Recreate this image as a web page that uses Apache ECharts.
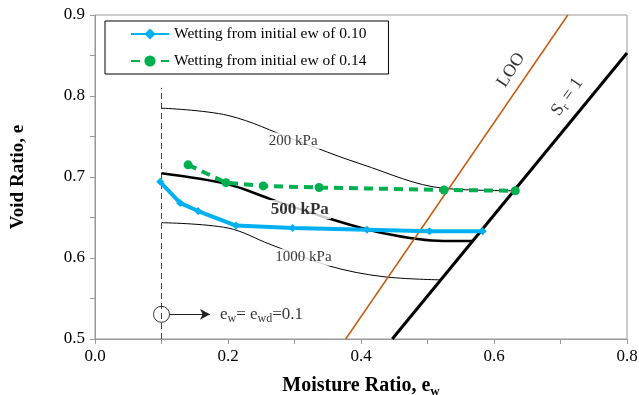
<!DOCTYPE html>
<html><head><meta charset="utf-8">
<script src="https://cdn.jsdelivr.net/npm/echarts@6/dist/echarts.min.js"></script>
<style>html,body{margin:0;padding:0;background:#fff}#c{width:639px;height:395px}</style>
</head><body><div id="c"></div>
<script>
// Data
var blueEw = [0.098, 0.128, 0.155, 0.212, 0.297, 0.409, 0.503, 0.583];
var blueE  = [0.694, 0.668, 0.658, 0.640, 0.637, 0.635, 0.633, 0.633];
var greenEw = [0.140, 0.197, 0.253, 0.337, 0.525, 0.632];
var greenE  = [0.715, 0.693, 0.689, 0.687, 0.684, 0.683];
var c200Ew = [0.1, 0.2, 0.3, 0.4, 0.525, 0.633];
var c200E  = [0.785, 0.776, 0.746, 0.716, 0.686, 0.683];
var c500Ew = [0.1, 0.2, 0.263, 0.343, 0.434, 0.524, 0.568];
var c500E  = [0.7045, 0.691, 0.673, 0.651, 0.6305, 0.621, 0.621];
var c1000Ew = [0.1, 0.2, 0.263, 0.353, 0.433, 0.52];
var c1000E  = [0.6436, 0.637, 0.617, 0.590, 0.577, 0.573];
var looEw = [0.377, 0.711], looE = [0.5, 0.9];
var srEw = [0.447, 0.8], srE = [0.5, 0.853];
var ewdEw = [0.1, 0.1], ewdE = [0.5, 0.81];
var arrowEw = [0.112, 0.173], arrowE = [0.5305, 0.5305];
var circlePt = [0.1, 0.5305];
var xTicks = [0.0, 0.2, 0.4, 0.6, 0.8];
var yTicks = [0.5, 0.6, 0.7, 0.8, 0.9];

function zip(a, b) { return a.map(function (v, i) { return [v, b[i]]; }); }
var F = 'Liberation Serif';

var chart = echarts.init(document.getElementById('c'));
function txt(name, pt, fmt, rich, extra) {
  var lab = Object.assign({show: true, position: 'inside', formatter: fmt, fontFamily: F, color: '#000', rich: rich}, extra || {});
  return {type: 'scatter', name: name, data: [pt], symbolSize: 0, silent: true, z: 5, label: lab};
}
function subStyle(size, sub, drop) {
  return {
    a: {fontFamily: F, fontSize: size, color: '#000'},
    s: {fontFamily: F, fontSize: sub, color: '#000', padding: [drop, 0, 0, 0]}
  };
}
chart.setOption({
  animation: false,
  grid: {left: 95, right: 12, top: 15, bottom: 56, outerBoundsMode: 'none', containLabel: false,
    show: true, borderColor: '#999', borderWidth: 1},
  legend: {
    data: ['Wetting from initial ew of 0.10', 'Wetting from initial ew of 0.14'],
    orient: 'vertical', left: 105, top: 21,
    borderColor: '#000', borderWidth: 1, padding: [5, 22, 5, 25],
    itemWidth: 38, itemHeight: 14, itemGap: 11,
    textStyle: {fontFamily: F, fontSize: 15.5, color: '#000'}, backgroundColor: '#fff'
  },
  xAxis: {
    type: 'value', min: 0, max: 0.8, interval: 0.1,
    name: '{b|Moisture Ratio, e}{bs|w}', nameLocation: 'middle', nameGap: 35,
    nameTextStyle: {rich: {
      b: {fontFamily: F, fontSize: 20, fontWeight: 'bold', color: '#000'},
      bs: {fontFamily: F, fontSize: 13, fontWeight: 'bold', color: '#000', padding: [11, 0, 0, 0]}
    }},
    axisLine: {lineStyle: {color: '#999'}},
    axisTick: {length: 5, lineStyle: {color: '#999'}},
    axisLabel: {fontFamily: F, fontSize: 17, color: '#000', margin: 9,
      formatter: function (v) { var r = Math.round(v * 10) / 10; return xTicks.some(function (t) { return Math.abs(t - r) < 1e-6; }) ? r.toFixed(1) : ''; }},
    splitLine: {show: false}
  },
  yAxis: {
    type: 'value', min: 0.5, max: 0.9, interval: 0.1,
    name: 'Void Ratio, e', nameLocation: 'middle', nameGap: 67,
    nameTextStyle: {fontFamily: F, fontSize: 19, fontWeight: 'bold', color: '#000'},
    axisLine: {lineStyle: {color: '#999'}},
    axisTick: {length: 5, lineStyle: {color: '#999'}},
    minorTick: {show: true, splitNumber: 2, length: 5, lineStyle: {color: '#999'}},
    axisLabel: {fontFamily: F, fontSize: 17, color: '#000', margin: 10,
      formatter: function (v) { return (Math.round(v * 10) / 10).toFixed(1); }},
    splitLine: {show: false}
  },
  series: [
    {type: 'line', name: 'ewd', data: zip(ewdEw, ewdE), symbol: 'none', lineStyle: {color: '#444', width: 1, type: [6, 4]}, z: 2, silent: true},
    {type: 'line', name: 'c200', data: zip(c200Ew, c200E), symbol: 'none', smooth: 0.35, lineStyle: {color: '#000', width: 1}, z: 2},
    {type: 'line', name: 'c500', data: zip(c500Ew, c500E), symbol: 'none', smooth: 0.35, lineStyle: {color: '#000', width: 2.5}, z: 2},
    {type: 'line', name: 'c1000', data: zip(c1000Ew, c1000E), symbol: 'none', smooth: 0.35, lineStyle: {color: '#000', width: 1}, z: 2},
    {type: 'line', name: 'LOO', data: zip(looEw, looE), symbol: 'none', lineStyle: {color: '#c55a11', width: 1.5}, z: 3},
    {type: 'line', name: 'Sr', data: zip(srEw, srE), symbol: 'none', lineStyle: {color: '#000', width: 3}, z: 3},
    {type: 'line', name: 'arrow', data: [], symbol: 'none',
      markLine: {silent: true, symbol: ['none', 'arrow'], symbolSize: [8, 10], label: {show: false},
        lineStyle: {color: '#222', width: 1, type: 'solid'},
        data: [[{coord: [arrowEw[0], arrowE[0]]}, {coord: [arrowEw[1], arrowE[1]]}]]}, z: 3},
    {type: 'scatter', name: 'circle', data: [circlePt], symbol: 'circle', symbolSize: 16, itemStyle: {color: 'rgba(255,255,255,0)', borderColor: '#000', borderWidth: 1}, z: 3},
    txt('l200', [0.298, 0.7444], '200 kPa', null, {fontSize: 15, backgroundColor: '#fff', padding: [1, 2]}),
    txt('l500', [0.308, 0.660], '500 kPa', null, {fontSize: 17, fontWeight: 'bold', backgroundColor: '#fff', padding: [1, 2]}),
    txt('l1000', [0.3135, 0.601], '1000 kPa', null, {fontSize: 15, backgroundColor: '#fff', padding: [1, 2]}),
    txt('lLOO', [0.6256, 0.832], 'LOO', null, {fontSize: 18, rotate: 57}),
    txt('lSr', [0.710, 0.799], '{a|S}{s|r}{a| = 1}', subStyle(18, 12, 10), {rotate: 55}),
    txt('lewd', [0.188, 0.5305], '{a|e}{s|w}{a|= e}{s|wd}{a|=0.1}', subStyle(17, 12, 9), {position: 'right', distance: 0}),
    {type: 'line', name: 'Wetting from initial ew of 0.10', data: zip(blueEw, blueE), symbol: 'diamond', symbolSize: 8,
      lineStyle: {color: '#00b0f0', width: 4}, itemStyle: {color: '#00b0f0'}, z: 6},
    {type: 'line', name: 'Wetting from initial ew of 0.14', data: zip(greenEw, greenE), symbol: 'circle', symbolSize: 9,
      lineStyle: {color: '#00b050', width: 4, type: [9, 6]}, itemStyle: {color: '#00b050'}, z: 6}
  ]
});
</script></body></html>
